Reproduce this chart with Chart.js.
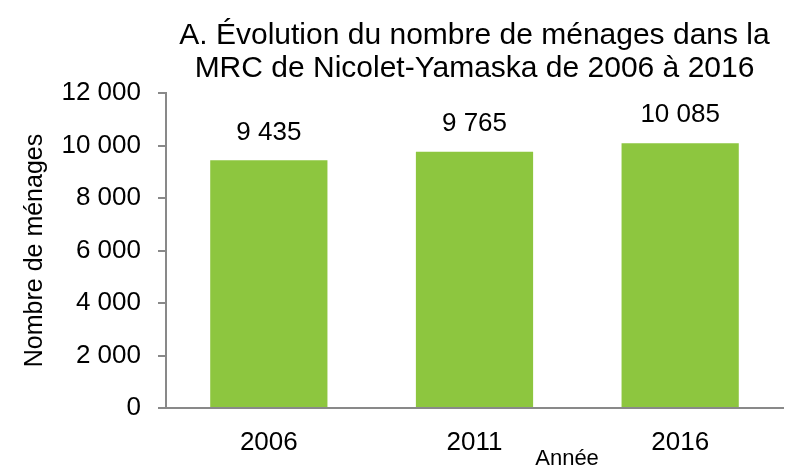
<!DOCTYPE html>
<html><head><meta charset="utf-8">
<script src="https://cdn.jsdelivr.net/npm/chart.js@4/dist/chart.umd.min.js"></script>
<style>html,body{margin:0;padding:0;background:#fff}#wrap{width:786px;height:467px}</style>
</head><body><div id="wrap"><canvas id="c" width="786" height="467"></canvas></div>
<script>
const categories = ['2006', '2011', '2016'];
const menages = [9435, 9765, 10085];
const yTicks = [0, 2000, 4000, 6000, 8000, 10000, 12000];
const titleLines = ['A. Évolution du nombre de ménages dans la', 'MRC de Nicolet-Yamaska de 2006 à 2016'];
const xTitle = 'Année';
const yTitle = 'Nombre de ménages';

const fmt = v => String(v).replace(/\B(?=(\d{3})+(?!\d))/g, ' ');
const FONT = "'Liberation Sans', Arial, sans-serif";

const textPlugin = {
  id: 'texts',
  afterDatasetsDraw(chart) {
    const ctx = chart.ctx;
    const meta = chart.getDatasetMeta(0);
    const ca = chart.chartArea;
    ctx.save();
    ctx.fillStyle = '#000';
    ctx.textAlign = 'center';
    ctx.textBaseline = 'middle';
    ctx.font = "26px " + FONT;
    meta.data.forEach((bar, i) => {
      ctx.fillText(fmt(menages[i]), bar.x, bar.y - 28);
    });
    ctx.font = "22px " + FONT;
    ctx.fillText(xTitle, ca.left + (ca.right - ca.left) * 0.65, 459);
    ctx.font = "30px " + FONT;
    const cx = (ca.left + ca.right) / 2;
    ctx.fillText(titleLines[0], cx, 36);
    ctx.fillText(titleLines[1], cx, 69);
    ctx.restore();
  }
};

new Chart(document.getElementById('c'), {
  type: 'bar',
  data: {
    labels: categories,
    datasets: [{
      data: menages,
      backgroundColor: '#8DC63F',
      borderWidth: 0,
      categoryPercentage: 0.57,
      barPercentage: 1.0
    }]
  },
  options: {
    responsive: false,
    animation: false,
    layout: { padding: { left: 0, right: 3, top: 93, bottom: 0 } },
    plugins: {
      legend: { display: false },
      tooltip: { enabled: false },
      title: { display: false }
    },
    scales: {
      x: {
        grid: { display: false, drawTicks: false },
        border: { display: true, color: '#898989', width: 2 },
        ticks: { color: '#000', font: { family: FONT, size: 26 }, padding: 19 },
        afterFit(s) { s.height = 59; s.paddingLeft = 0; s.paddingRight = 0; }
      },
      y: {
        min: 0, max: 12000,
        afterBuildTicks(s) { s.ticks = yTicks.map(v => ({ value: v })); },
        grid: { drawOnChartArea: false, drawTicks: true, tickLength: 8, color: '#898989', lineWidth: 2 },
        border: { display: true, color: '#898989', width: 2 },
        ticks: { color: '#000', font: { family: FONT, size: 26 }, padding: 17, callback: v => fmt(v) },
        title: { display: true, text: yTitle, color: '#000', font: { family: FONT, size: 25 }, padding: { top: 20, bottom: 0 } },
        afterFit(s) { s.width = 166; s.paddingTop = 0; s.paddingBottom = 0; }
      }
    }
  },
  plugins: [textPlugin]
});
</script></body></html>
